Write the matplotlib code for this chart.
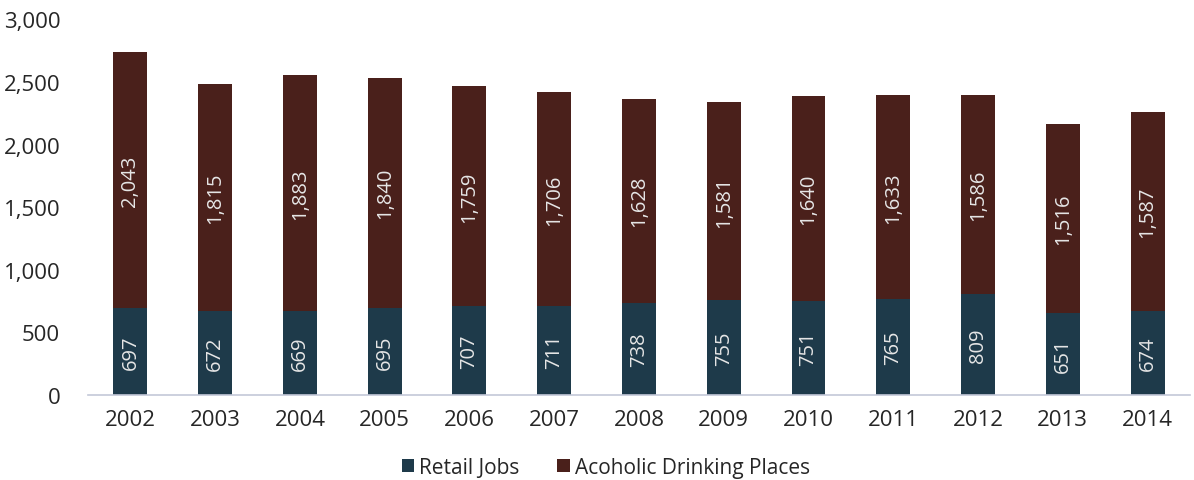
import numpy as np
import matplotlib
matplotlib.use('Agg')
import matplotlib.pyplot as plt

years = ['2002', '2003', '2004', '2005', '2006', '2007', '2008',
         '2009', '2010', '2011', '2012', '2013', '2014']
retail = [697, 672, 669, 695, 707, 711, 738, 755, 751, 765, 809, 651, 674]
drinking = [2043, 1815, 1883, 1840, 1759, 1706, 1628, 1581, 1640, 1633, 1586, 1516, 1587]

retail_color = '#1e3a4a'
drinking_color = '#4a201b'

plt.rcParams['font.family'] = ['Open Sans', 'DejaVu Sans']

fig = plt.figure(figsize=(11.94, 4.81), dpi=100)
ax = fig.add_axes([0.0737, 0.1767, 0.9229, 0.781])

x = np.arange(len(years))
w = 0.4
b1 = ax.bar(x, retail, w, color=retail_color, label='Retail Jobs')
b2 = ax.bar(x, drinking, w, bottom=retail, color=drinking_color,
            label='Acoholic Drinking Places')

for bars, vals, base in [(b1, retail, [0] * len(retail)), (b2, drinking, retail)]:
    for rect, v, b in zip(bars, vals, base):
        ax.text(rect.get_x() + rect.get_width() / 2, b + v / 2, f'{v:,}',
                rotation=90, ha='center', va='center', color='#e6e6e6', fontsize=14.5)

ax.set_xlim(-0.5, len(years) - 0.5)
ax.set_ylim(0, 3000)
ax.set_yticks(range(0, 3001, 500))
ax.set_yticklabels([f'{t:,}' for t in range(0, 3001, 500)])
ax.set_xticks(x)
ax.set_xticklabels(years)
ax.tick_params(axis='both', length=0, labelsize=16, colors='#262626')
ax.tick_params(axis='y', pad=20)
ax.tick_params(axis='x', pad=10)

for s in ['top', 'right', 'left']:
    ax.spines[s].set_visible(False)
ax.spines['bottom'].set_color('#c4c8d8')
ax.spines['bottom'].set_linewidth(1.2)

ax.legend(loc='upper center', bbox_to_anchor=(0.47, -0.115), ncol=2, frameon=False,
          fontsize=15, handlelength=0.6, handleheight=0.6, handletextpad=0.25,
          columnspacing=1.8, labelcolor='#262626')

plt.savefig('out.png', dpi=100)
